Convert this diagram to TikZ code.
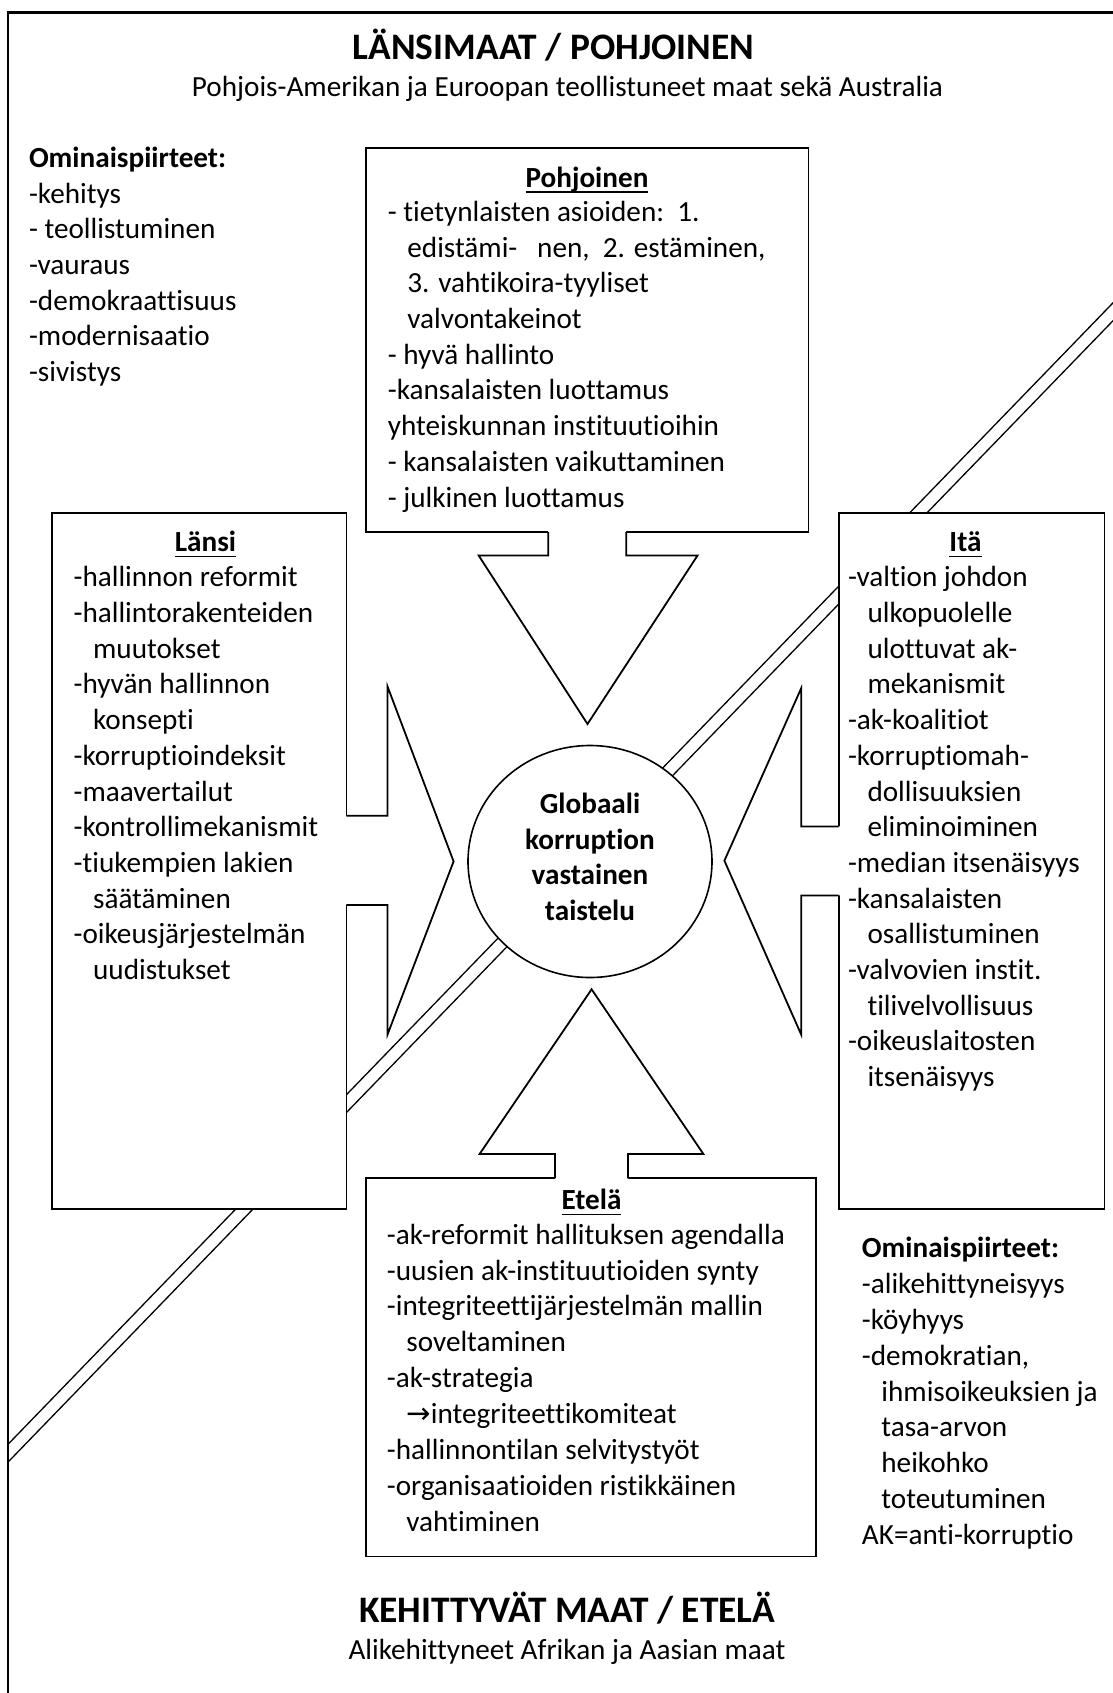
\documentclass[tikz,border=0pt]{standalone}
\usepackage{fontspec}
\setmainfont{Carlito}[Ligatures={TeX,NoCommon}]
\newfontfamily\arrowfont{DejaVu Sans}
\usetikzlibrary{shapes.geometric,fit}
\newcommand\ulhead[1]{\setbox0=\hbox{#1}\rlap{\rule[-2.8pt]{\wd0}{0.9pt}}\box0}
\newcommand\fstrut{\rule{0pt}{13pt}}
\newcommand\ind{\hspace*{9.75pt}}
\tikzset{
  boxst/.style={draw, fill=white, line width=0.9pt, inner sep=0pt},
  bandline/.style={line width=0.65pt},
  outerframe/.style={line width=1.05pt},
  arrowline/.style={line width=0.9pt, line join=miter},
  txt/.style={anchor=north west, inner sep=0pt, align=left, font=\fontsize{14.6pt}{17.85pt}\selectfont},
  txtb/.style={anchor=north west, inner sep=0pt, align=left, font=\fontsize{14.6pt}{17.95pt}\selectfont},
  hdr/.style={anchor=base, inner sep=0pt, font=\fontsize{14.6pt}{17.85pt}\selectfont\bfseries},
  ttl/.style={anchor=base, inner sep=0pt, font=\fontsize{18.7pt}{22pt}\selectfont\bfseries},
  subttl/.style={anchor=base, inner sep=0pt, font=\fontsize{14.6pt}{17.85pt}\selectfont},
}
\begin{document}
\begin{tikzpicture}[x=0.5pt,y=-0.5pt]
\useasboundingbox (0,0) rectangle (1113,1693);
\clip (0,0) rectangle (1113,1693);
\fill[white] (0,0) rectangle (1113,1693);
% outer frame (right and bottom sides lie outside the picture)
\draw[outerframe] (8,1730) -- (8,12.5) -- (1140,12.5);
% diagonal double band
\coordinate (bA1) at (8,1444.3);
\coordinate (bA2) at (1120,295.6);
\coordinate (bB1) at (8,1462.1);
\coordinate (bB2) at (1120,313.5);
\draw[bandline] (bA1) -- (bA2);
\draw[bandline] (bB1) -- (bB2);
% boxes
\node[boxst, fit={(366,148.2) (808.4,532)}] (pohjbox) {};
\node[boxst, fit={(51.8,513) (346.4,1209)}] (lansibox) {};
\node[boxst, fit={(838.7,513.2) (1104.5,1209)}] (itabox) {};
\node[boxst, fit={(366,1178.3) (816,1556.5)}] (etelabox) {};
\node[ellipse, draw, fill=white, line width=0.8pt, minimum width=122pt, minimum height=116pt, inner sep=0pt] (glob) at (590,861.5) {};
% north arrow
\fill[white] (548.2,526) -- (548.2,555.4) -- (478.6,555.4) -- (587.5,724) -- (697.6,555.4) -- (626.2,555.4) -- (626.2,526) -- cycle;
\draw[arrowline] (548.2,532) -- (548.2,555.4) -- (478.6,555.4) -- (587.5,724) -- (697.6,555.4) -- (626.2,555.4) -- (626.2,532);
% south arrow
\fill[white] (555,1184) -- (555,1154) -- (479.6,1154) -- (591.6,989.3) -- (703.4,1154) -- (628,1154) -- (628,1184) -- cycle;
\draw[arrowline] (555,1178.3) -- (555,1154) -- (479.6,1154) -- (591.6,989.3) -- (703.4,1154) -- (628,1154) -- (628,1178.3);
% west arrow
\fill[white] (340,815.7) -- (387.5,815.7) -- (387.5,686.4) -- (453.6,861.4) -- (387.5,1034.6) -- (387.5,905) -- (340,905) -- cycle;
\draw[arrowline] (346.4,815.7) -- (387.5,815.7) -- (387.5,686.4) -- (453.6,861.4) -- (387.5,1034.6) -- (387.5,905) -- (346.4,905);
% east arrow
\fill[white] (845,826.4) -- (801.2,826.4) -- (801.2,688.2) -- (724.4,860.7) -- (801.2,1034.6) -- (801.2,895.4) -- (845,895.4) -- cycle;
\draw[arrowline] (838.7,826.4) -- (801.2,826.4) -- (801.2,688.2) -- (724.4,860.7) -- (801.2,1034.6) -- (801.2,895.4) -- (838.7,895.4);
% titles
\node[ttl] (toptitle) at (553.5,59) {LÄNSIMAAT / POHJOINEN};
\node[subttl] (topsub) at (567.5,96.4) {Pohjois-Amerikan ja Euroopan teollistuneet maat sekä Australia};
\node[ttl] (bottitle) at (567.3,1622) {KEHITTYVÄT MAAT / ETELÄ};
\node[subttl] (botsub) at (567,1659.8) {Alikehittyneet Afrikan ja Aasian maat};
% left characteristics
\node[txt] (ominL) at (28.6,141) {\fstrut\textbf{Ominaispiirteet:}\\-kehitys\\- teollistuminen\\-vauraus\\-demokraattisuus\\-modernisaatio\\-sivistys};
% Pohjoinen
\node[hdr] (pohjhead) at (587,187.5) {\ulhead{Pohjoinen}};
\node[txt] (pohjtext) at (387.5,195) {\fstrut- tietynlaisten asioiden:\ \ 1.\\
\ind edistämi-\ \ \ nen,\ \ 2. estäminen,\\
\ind 3. vahtikoira-tyyliset\\
\ind valvontakeinot\\
- hyvä hallinto\\
-kansalaisten luottamus\\
yhteiskunnan instituutioihin\\
- kansalaisten vaikuttaminen\\
- julkinen luottamus};
% Länsi
\node[hdr] (lansihead) at (205.5,551.8) {\ulhead{Länsi}};
\node[txt] (lansitext) at (73.2,560.4) {\fstrut-hallinnon reformit\\
-hallintorakenteiden\\
\ind muutokset\\
-hyvän hallinnon\\
\ind konsepti\\
-korruptioindeksit\\
-maavertailut\\
-kontrollimekanismit\\
-tiukempien lakien\\
\ind säätäminen\\
-oikeusjärjestelmän\\
\ind uudistukset};
% Itä
\node[hdr] (itahead) at (965.5,551.8) {\ulhead{Itä}};
\node[txt] (itatext) at (847.6,560.4) {\fstrut-valtion johdon\\
\ind ulkopuolelle\\
\ind ulottuvat ak-\\
\ind mekanismit\\
-ak-koalitiot\\
-korruptiomah-\\
\ind dollisuuksien\\
\ind eliminoiminen\\
-median itsenäisyys\\
-kansalaisten\\
\ind osallistuminen\\
-valvovien instit.\\
\ind tilivelvollisuus\\
-oikeuslaitosten\\
\ind itsenäisyys};
% Etelä
\node[hdr] (etelahead) at (591.5,1209.7) {\ulhead{Etelä}};
\node[txtb] (etelatext) at (386.5,1217.7) {\fstrut-ak-reformit hallituksen agendalla\\
-uusien ak-instituutioiden synty\\
-integriteettijärjestelmän mallin\\
\ind soveltaminen\\
-ak-strategia\\
\ind{\arrowfont →}integriteettikomiteat\\
-hallinnontilan selvitystyöt\\
-organisaatioiden ristikkäinen\\
\ind vahtiminen};
% right characteristics
\node[txtb] (ominR) at (861.5,1231) {\fstrut\textbf{Ominaispiirteet:}\\
-alikehittyneisyys\\
-köyhyys\\
-demokratian,\\
\ind ihmisoikeuksien ja\\
\ind tasa-arvon\\
\ind heikohko\\
\ind toteutuminen\\
AK=anti-korruptio};
% centre text
\node[anchor=north, inner sep=0pt, align=center, font=\fontsize{14.6pt}{17.85pt}\selectfont\bfseries] (globtext) at (590,787) {\fstrut Globaali\\korruption\\vastainen\\taistelu};
\end{tikzpicture}
\end{document}
